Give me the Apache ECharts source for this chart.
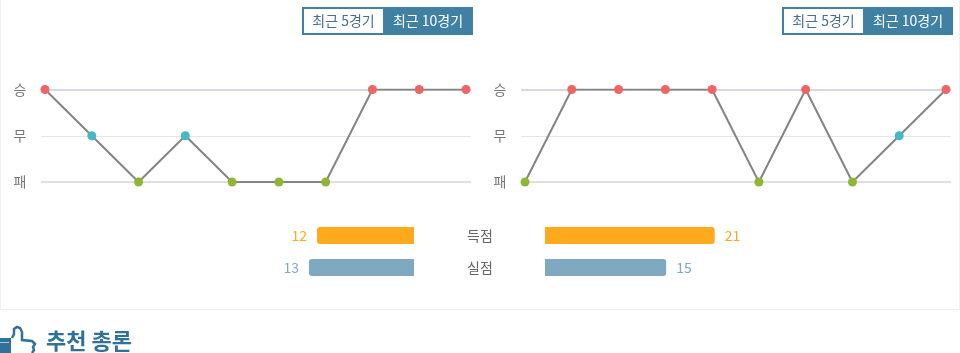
<!DOCTYPE html>
<html>
<head>
<meta charset="utf-8">
<title>최근 경기</title>
<style>
html, body { margin: 0; padding: 0; background: #fff; overflow: hidden; }
#main { width: 960px; height: 353px; }
</style>
<script src="https://cdn.jsdelivr.net/npm/echarts@6/dist/echarts.min.js"></script>
</head>
<body>
<div id="main"></div>
<script>
var formLabels = ["패", "무", "승"];
var leftForm = ["승", "무", "패", "무", "패", "패", "패", "승", "승", "승"];
var rightForm = ["패", "승", "승", "승", "승", "패", "승", "패", "무", "승"];
var statLabels = ["실점", "득점"];
var leftStats = [13, 12];
var rightStats = [15, 21];
var buttonLabels = ["최근 5경기", "최근 10경기"];
var headingText = "추천 총론";

var fontName = '"Noto Sans CJK KR", "Noto Sans", sans-serif';
var formColors = { "승": "#f06464", "무": "#45b9c5", "패": "#8fb733" };
var statColors = ["#7fa9c1", "#ffa91c"];
var btnColor = "#3f80a3";

var myChart = echarts.init(document.getElementById("main"));

function toPoints(list) {
  return list.map(function (v, i) {
    return [i, v];
  });
}

// 선 그래프 한 세트
function formSeries(index, list) {
  return [
    {
      type: "line",
      xAxisIndex: index,
      yAxisIndex: index,
      z: 1,
      silent: true,
      data: [],
      markLine: {
        z: 1,
        silent: true,
        symbol: "none",
        label: { show: false },
        animation: false,
        data: [
          { yAxis: "승", lineStyle: { color: "#d5d9e6", width: 2, type: "solid" } },
          { yAxis: "무", lineStyle: { color: "#e6e6e6", width: 1, type: "solid" } },
          { yAxis: "패", lineStyle: { color: "#e0e0e0", width: 2, type: "solid" } },
        ],
      },
    },
    {
      type: "line",
      xAxisIndex: index,
      yAxisIndex: index,
      z: 3,
      symbol: "circle",
      symbolSize: 9,
      showAllSymbol: true,
      lineStyle: { color: "#848484", width: 2 },
      itemStyle: {
        color: function (params) {
          return formColors[params.value[1]];
        },
      },
      data: toPoints(list),
    },
  ];
}

function statSeries(index, list, radius, pos) {
  return {
    type: "bar",
    xAxisIndex: index,
    yAxisIndex: index,
    barWidth: 17,
    data: list.map(function (v, i) {
      return {
        value: v,
        itemStyle: { color: statColors[i], borderRadius: radius },
        label: { color: statColors[i] },
      };
    }),
    label: {
      show: true,
      position: pos,
      distance: 10,
      fontFamily: fontName,
      fontSize: 14,
      padding: [2, 0, 0, 0],
    },
  };
}

function formY(left) {
  return {
    gridIndex: left,
    type: "category",
    data: formLabels,
    boundaryGap: false,
    axisLine: { show: false },
    axisTick: { show: false },
    splitLine: { show: false },
    axisLabel: {
      color: "#777",
      fontFamily: fontName,
      fontSize: 14,
      align: "center",
      margin: 21,
    },
  };
}

function formX(index) {
  return {
    gridIndex: index,
    type: "value",
    show: false,
    min: -0.0855,
    max: 9.107,
  };
}

function statX(index, inverse) {
  return {
    gridIndex: index,
    type: "value",
    show: false,
    min: 0,
    max: 25,
    inverse: inverse,
  };
}

function button(offset) {
  return [
    { type: "rect", shape: { x: 302 + offset, y: 7, width: 171, height: 28 }, style: { fill: btnColor } },
    { type: "rect", shape: { x: 304 + offset, y: 9, width: 79, height: 24 }, style: { fill: "#fff" } },
    {
      type: "text",
      x: 343.5 + offset,
      y: 21,
      style: { text: buttonLabels[0], fill: "#47708a", font: "14px " + fontName, align: "center", verticalAlign: "middle" },
    },
    {
      type: "text",
      x: 428 + offset,
      y: 21,
      style: { text: buttonLabels[1], fill: "#fff", font: "14px " + fontName, align: "center", verticalAlign: "middle" },
    },
  ];
}

var option = {
  animation: false,
  backgroundColor: "#fff",
  grid: [
    { left: 41, top: 89.5, width: 430, height: 92.5 },
    { left: 521, top: 89.5, width: 430, height: 92.5 },
    { left: 212, top: 219.5, width: 202, height: 64 },
    { left: 545, top: 219.5, width: 202, height: 64 },
  ],
  xAxis: [formX(0), formX(1), statX(2, true), statX(3, false)],
  yAxis: [
    formY(0),
    formY(1),
    {
      gridIndex: 2,
      type: "category",
      data: statLabels,
      axisLine: { show: false },
      axisTick: { show: false },
      axisLabel: { show: false },
    },
    {
      gridIndex: 3,
      type: "category",
      data: statLabels,
      axisLine: { show: false },
      axisTick: { show: false },
      axisLabel: {
        color: "#666",
        fontFamily: fontName,
        fontSize: 14,
        align: "center",
        margin: 65,
        padding: [6, 0, 0, 0],
      },
    },
  ],
  series: formSeries(0, leftForm)
    .concat(formSeries(1, rightForm))
    .concat([
      statSeries(2, leftStats, [3, 0, 0, 3], "left"),
      statSeries(3, rightStats, [0, 3, 3, 0], "right"),
    ]),
  graphic: [
    // 바깥 테두리
    { type: "rect", z: -1, shape: { x: 0.5, y: -5, width: 959, height: 314.5 }, style: { fill: "#fff", stroke: "#eeeeee", lineWidth: 1 } },
    // 엄지 아이콘
    { type: "rect", shape: { x: 0, y: 338, width: 11, height: 15 }, style: { fill: "#2f7199" } },
    { type: "rect", shape: { x: 0, y: 342, width: 9, height: 1 }, style: { fill: "#a9c6d8" } },
    {
      type: "polyline",
      shape: {
        points: [[12, 338], [14, 334], [14, 329], [17, 327], [20, 328], [22, 332], [22, 340], [32, 341], [35, 344], [33, 347], [34, 350], [32, 353]],
      },
      style: { fill: "none", stroke: "#2f7199", lineWidth: 2.5 },
    },
    {
      type: "text",
      x: 46,
      y: 341,
      style: { text: headingText, fill: "#2f7199", font: "bold 22px " + fontName, verticalAlign: "middle" },
    },
  ]
    .concat(button(0))
    .concat(button(480)),
};

myChart.setOption(option);
window.addEventListener("resize", function () {
  myChart.resize();
});
</script>
</body>
</html>
